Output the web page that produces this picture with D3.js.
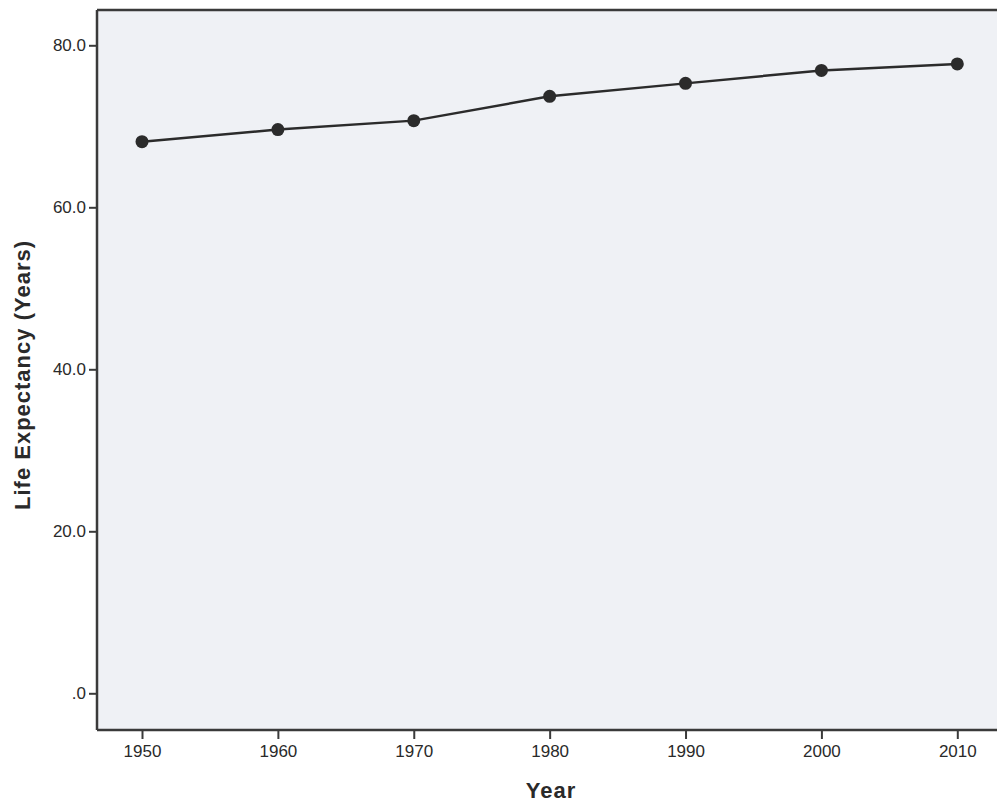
<!DOCTYPE html>
<html>
<head>
<meta charset="utf-8">
<script src="https://cdn.jsdelivr.net/npm/d3@7"></script>
<style>
  html, body { margin: 0; padding: 0; background: #ffffff; }
  svg { display: block; }
</style>
</head>
<body>
<svg id="chart" width="997" height="806"></svg>
<script>
const years = [1950, 1960, 1970, 1980, 1990, 2000, 2010];
const lifeExpectancy = [68.1, 69.6, 70.7, 73.7, 75.3, 76.9, 77.7];
const yTicks = [0, 20, 40, 60, 80];
const yTickLabels = [".0", "20.0", "40.0", "60.0", "80.0"];
const xTicks = [1950, 1960, 1970, 1980, 1990, 2000, 2010];
const xTitle = "Year";
const yTitle = "Life Expectancy (Years)";

const svg = d3.select("#chart");
const plot = { left: 97, top: 10, right: 1010, bottom: 730 };

const x = d3.scaleLinear().domain([1950, 2010]).range([142, 957.3]);
const y = d3.scaleLinear().domain([0, 80]).range([693.3, 45.3]);

// plot background
svg.append("rect")
  .attr("x", plot.left).attr("y", plot.top)
  .attr("width", plot.right - plot.left).attr("height", plot.bottom - plot.top)
  .attr("fill", "#eff1f5");

// top frame line
svg.append("line").attr("x1", plot.left).attr("x2", plot.right)
  .attr("y1", plot.top).attr("y2", plot.top)
  .attr("stroke", "#3a3a3a").attr("stroke-width", 2.5);

// axes
const yAxis = d3.axisLeft(y).tickValues(yTicks)
  .tickFormat((d, i) => yTickLabels[i]).tickSize(8).tickPadding(3);
const gy = svg.append("g").attr("transform", `translate(${plot.left},0)`).call(yAxis);
gy.select(".domain").attr("d", `M0,${plot.top}V${plot.bottom}`);

const xAxis = d3.axisBottom(x).tickValues(xTicks).tickFormat(d3.format("d"))
  .tickSize(9).tickPadding(6);
const gx = svg.append("g").attr("transform", `translate(0,${plot.bottom})`).call(xAxis);
gx.select(".domain").attr("d", `M${plot.left},0H${plot.right}`);

[gx, gy].forEach(g => {
  g.select(".domain").attr("stroke", "#3a3a3a").attr("stroke-width", 2.5);
  g.selectAll(".tick line").attr("stroke", "#3a3a3a").attr("stroke-width", 2);
  g.selectAll(".tick text")
    .attr("fill", "#2a2a2a")
    .style("font-family", "'Liberation Sans', Arial, sans-serif")
    .style("font-size", "17px");
});

// line
const pts = years.map((yr, i) => [yr, lifeExpectancy[i]]);
svg.append("path")
  .datum(pts)
  .attr("fill", "none")
  .attr("stroke", "#2b2b2b")
  .attr("stroke-width", 2.5)
  .attr("d", d3.line().x(d => x(d[0])).y(d => y(d[1])));

svg.append("g").selectAll("circle").data(pts).join("circle")
  .attr("cx", d => x(d[0])).attr("cy", d => y(d[1]))
  .attr("r", 6.5).attr("fill", "#2b2b2b");

// titles
svg.append("text")
  .attr("x", 551).attr("y", 798)
  .attr("text-anchor", "middle")
  .attr("fill", "#2a2a2a")
  .style("font-family", "'Liberation Sans', Arial, sans-serif")
  .style("font-weight", "bold").style("font-size", "22px")
  .style("letter-spacing", "1px")
  .text(xTitle);

svg.append("text")
  .attr("transform", "translate(30,375) rotate(-90)")
  .attr("text-anchor", "middle")
  .attr("fill", "#2a2a2a")
  .style("font-family", "'Liberation Sans', Arial, sans-serif")
  .style("font-weight", "bold").style("font-size", "22px")
  .style("letter-spacing", "1px")
  .text(yTitle);
</script>
</body>
</html>
